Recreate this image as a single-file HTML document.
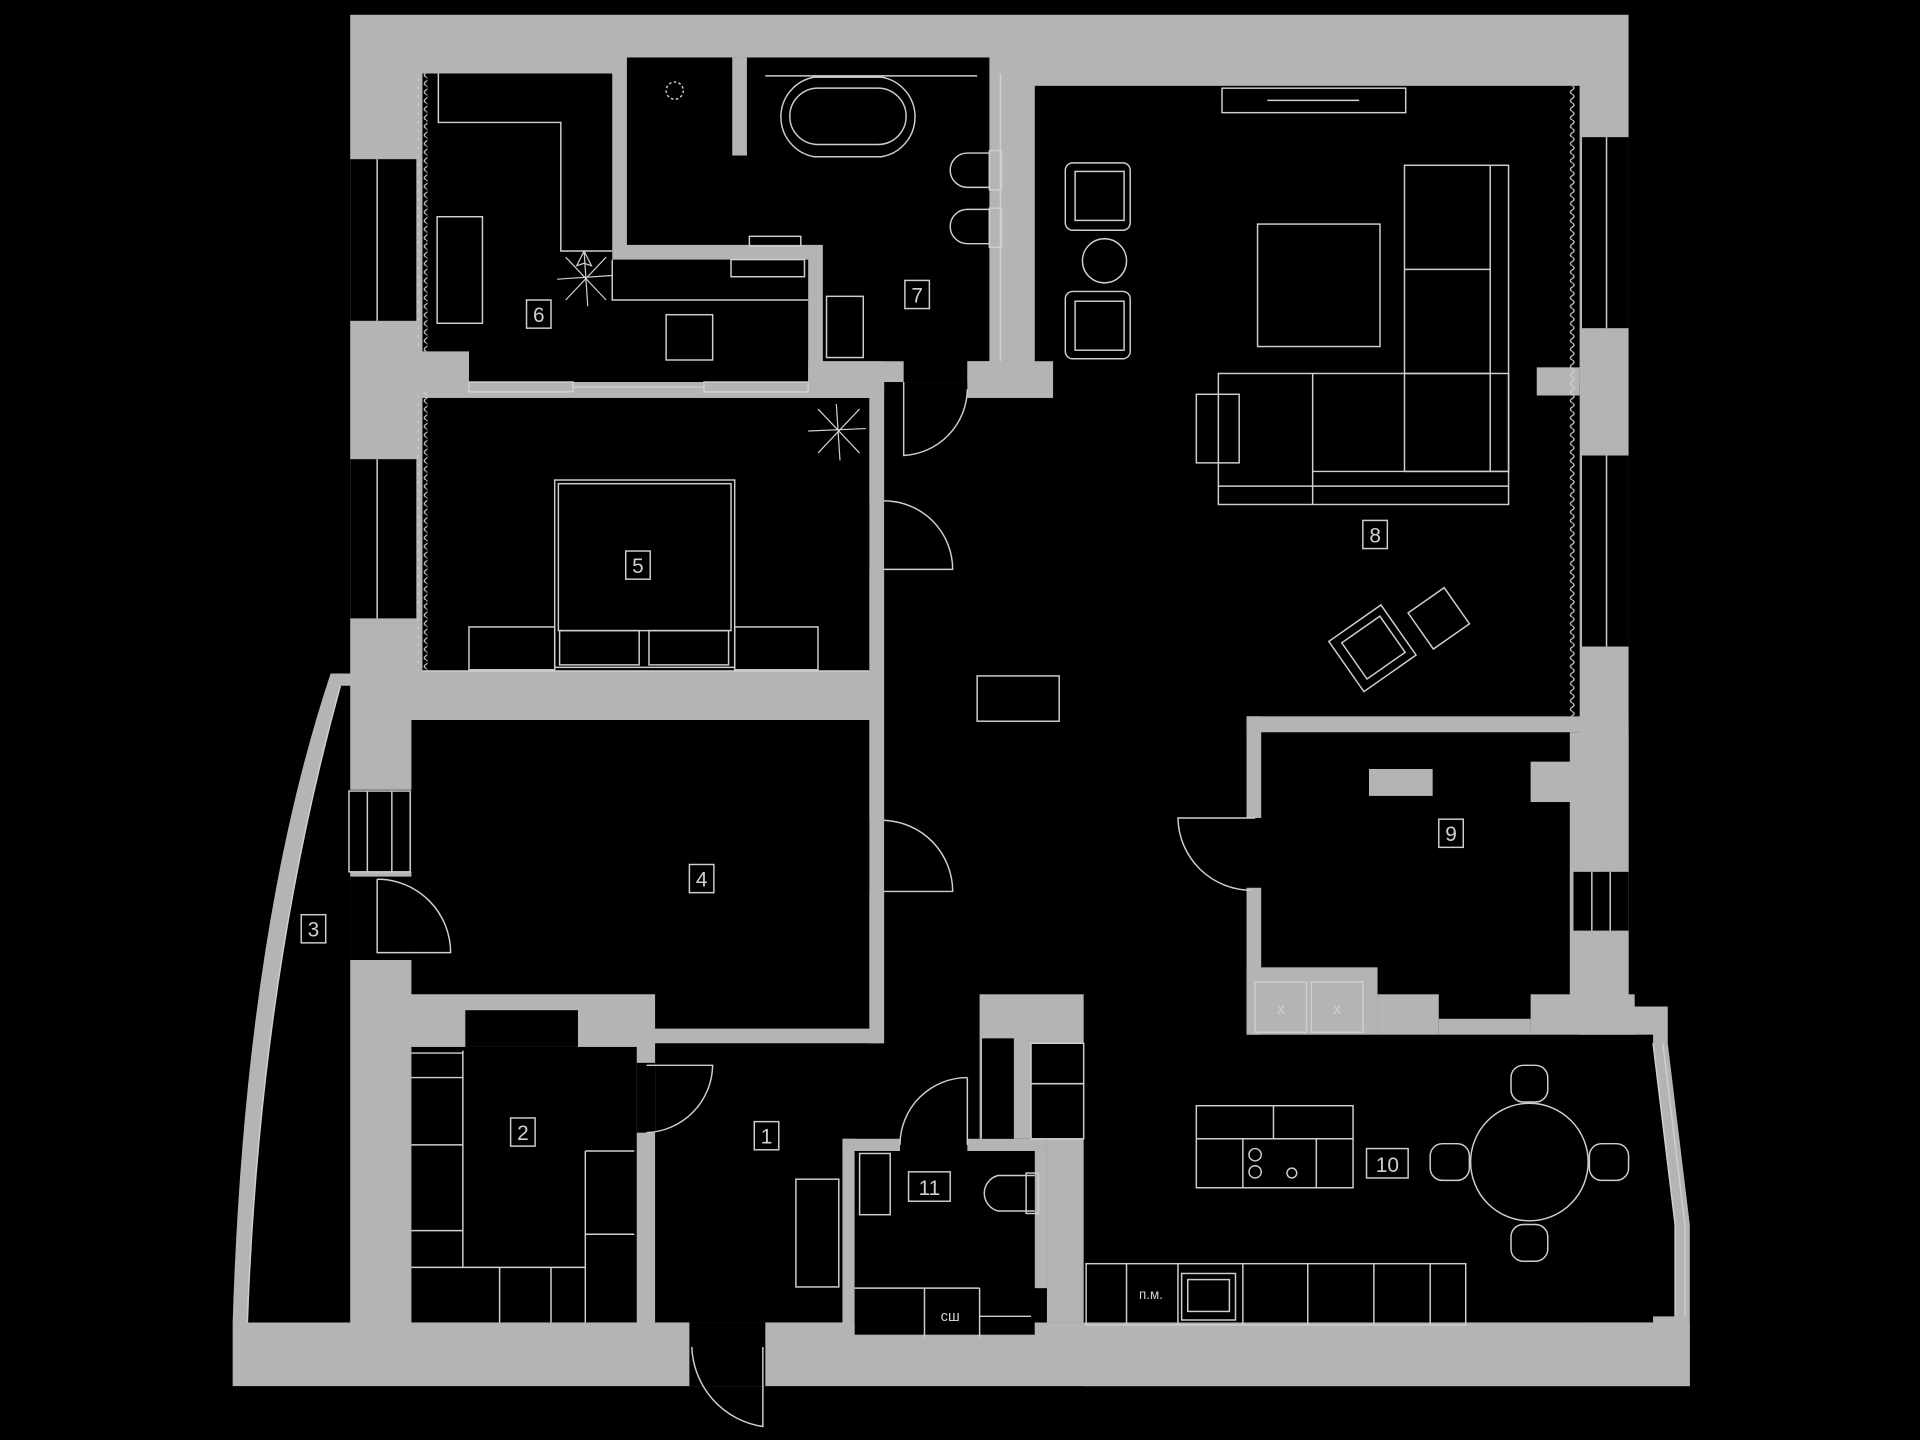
<!DOCTYPE html>
<html><head><meta charset="utf-8"><style>
html,body{margin:0;padding:0;background:#000;width:1920px;height:1440px;overflow:hidden}
svg{display:block}
text{font-family:"Liberation Sans",sans-serif;fill:#d0d0d0}
</style></head><body>
<svg width="1920" height="1440" viewBox="0 0 1568 1176" xmlns="http://www.w3.org/2000/svg">
<defs>
<pattern id="wv" width="8" height="7" patternUnits="userSpaceOnUse">
<path d="M4,0 Q7,1.75 4,3.5 Q1,5.25 4,7" fill="none" stroke="#cfcfcf" stroke-width="1"/>
</pattern>
</defs>
<rect width="1568" height="1176" fill="#000"/>
<!-- outer gray -->
<path d="M286,12 H1330 V822 H1362 V852 L1380,1000 V1132 H190 V1080 Q200,760 270,550 H286 Z" fill="#b4b4b4"/>
<g fill="#000">
<!-- R6 -->
<path d="M345,60 H500 V212 H660 V312 H383 V287 H345 Z"/>
<!-- R7 -->
<path d="M512,47 H808 V295 H790 V312 H738 V295 H672 V200 H512 Z"/>
<!-- R5 -->
<rect x="345" y="325" width="365" height="223"/>
<!-- R8 + corridor -->
<rect x="845" y="70" width="445" height="520"/>
<rect x="722" y="312" width="568" height="768"/>
<!-- R4 -->
<path d="M336,588 H710 V840 H535 V812 H336 Z"/>
<!-- R2 -->
<rect x="336" y="855" width="184" height="225"/>
<rect x="380" y="825" width="92" height="30"/>
<rect x="520" y="868" width="15" height="57"/>
<!-- R1 -->
<rect x="535" y="852" width="350" height="228"/>
<!-- R3 -->
<path d="M278,560 H286 V1080 H202 Q212,800 278,560 Z"/>
<!-- room 10 -->
<rect x="885" y="845" width="465" height="235"/>
<path d="M1330,852 H1350 L1368,1000 V1075 H1330 Z"/>
<!-- windows -->
<rect x="286" y="130" width="54" height="132"/>
<rect x="286" y="375" width="54" height="130"/>
<rect x="1292" y="112" width="38" height="156"/>
<rect x="1292" y="372" width="38" height="156"/>
<rect x="284" y="645" width="52" height="67"/>
<rect x="286" y="716" width="50" height="68"/>
<rect x="563" y="1080" width="62" height="52"/>
</g>
<!-- gray walls over big areas -->
<g fill="#b4b4b4">
<rect x="598" y="47" width="12" height="80"/>
<rect x="822" y="58" width="23" height="237"/>
<rect x="845" y="58" width="445" height="12"/>
<rect x="790" y="295" width="70" height="30"/>
<rect x="660" y="295" width="62" height="30"/>
<rect x="710" y="312" width="12" height="98"/>
<rect x="710" y="465" width="12" height="205"/>
<rect x="710" y="728" width="12" height="124"/>
<rect x="1255" y="300" width="35" height="23"/>
<rect x="1290" y="585" width="40" height="240"/>
<rect x="1018" y="585" width="272" height="13"/>
<rect x="1018" y="585" width="12" height="83"/>
<rect x="1018" y="725" width="12" height="120"/>
<rect x="1282" y="598" width="48" height="240"/>
<rect x="1250" y="622" width="40" height="33"/>
<rect x="1018" y="790" width="107" height="55"/>
<rect x="1125" y="812" width="50" height="33"/>
<rect x="1175" y="832" width="75" height="13"/>
<rect x="1250" y="812" width="85" height="33"/>
<rect x="1118" y="628" width="52" height="22"/>
<!-- closets & bath 11 -->
<rect x="800" y="812" width="85" height="118"/>
<rect x="688" y="930" width="10" height="165"/>
<rect x="688" y="930" width="47" height="10"/>
<rect x="790" y="930" width="65" height="10"/>
<rect x="855" y="930" width="30" height="150"/>
<rect x="845" y="940" width="10" height="112"/>
<rect x="688" y="1090" width="167" height="6"/>
<rect x="885" y="1080" width="495" height="52"/>
</g>
<g fill="#000">
<rect x="286" y="716" width="50" height="68"/>
<rect x="1285" y="712" width="45" height="48"/>
<rect x="802" y="848" width="26" height="82"/>
<rect x="842" y="852" width="43" height="78"/>
<rect x="698" y="940" width="147" height="150"/>
</g>
<!-- line work -->
<g fill="none" stroke="#cfcfcf" stroke-width="1.2">
<!-- window lines -->
<line x1="308" y1="130" x2="308" y2="262"/><line x1="308" y1="375" x2="308" y2="505"/>
<line x1="1312" y1="112" x2="1312" y2="268"/><line x1="1312" y1="372" x2="1312" y2="528"/>
<rect x="285" y="646" width="50" height="66"/><line x1="300" y1="646" x2="300" y2="712"/><line x1="320" y1="646" x2="320" y2="712"/>
<line x1="1300" y1="712" x2="1300" y2="760"/><line x1="1315" y1="712" x2="1315" y2="760"/>
<path d="M1350,852 L1368,1000 V1075 M1358,852 L1376,1000 V1075"/>
<path d="M278,560 Q212,800 202,1080"/>
<!-- doors -->
<path d="M722,465 H778 A56,56 0 0 0 722,409"/>
<path d="M722,728 H778 A58,58 0 0 0 722,670"/>
<path d="M738,312 V372 A55,55 0 0 0 790,318"/>
<path d="M1025,668 H962 A60,60 0 0 0 1022,727"/>
<path d="M528,870 H582 A56,56 0 0 1 528,925"/>
<path d="M308,718 V778 H368 A60,60 0 0 0 308,718"/>
<path d="M565,1100 A68,68 0 0 0 623,1165 V1100"/>
<path d="M790,880 V935 M790,880 A55,55 0 0 0 735,935"/>
<!-- R6 furniture -->
<path d="M358,60 V100 H458 V205 H500"/>
<rect x="357" y="177" width="37" height="87"/>
<rect x="544" y="257" width="38" height="37"/>
<path d="M500,212 V245 H660"/>
<rect x="597" y="212" width="60" height="14"/>
<rect x="612" y="193" width="42" height="8"/>
<rect x="383" y="312" width="85" height="8"/><rect x="575" y="312" width="85" height="8"/>
<line x1="468" y1="316" x2="575" y2="316"/>
<!-- R7 -->
<path d="M625,62 H798 M640,92 A20,20 0 0 0 640,92"/>
<path d="M665,63 H720 A33,33 0 0 1 720,128 H665 A33,33 0 0 1 665,63 Z"/>
<path d="M668,72 H717 A22,22 0 0 1 717,118 H668 A22,22 0 0 1 668,72 Z"/>
<circle cx="551" cy="74" r="7" stroke-dasharray="2,2"/>
<path d="M808,125 H790 A14,14 0 0 0 790,153 H808 Z M808,171 H790 A14,14 0 0 0 790,199 H808 Z"/>
<rect x="808" y="123" width="10" height="32"/><rect x="808" y="170" width="10" height="32"/>
<rect x="675" y="242" width="30" height="50"/>
<line x1="817" y1="60" x2="817" y2="295"/>
<!-- R5 -->
<rect x="453" y="392" width="147" height="153"/>
<rect x="456" y="395" width="141" height="120"/>
<rect x="383" y="512" width="70" height="35"/><rect x="600" y="512" width="68" height="35"/>
<rect x="457" y="515" width="65" height="28"/><rect x="530" y="515" width="65" height="28"/>
<line x1="345" y1="548" x2="710" y2="548"/>
<!-- R8 -->
<rect x="998" y="72" width="150" height="20"/><line x1="1035" y1="82" x2="1110" y2="82"/>
<rect x="1147" y="135" width="85" height="250"/>
<line x1="1147" y1="220" x2="1217" y2="220"/><line x1="1147" y1="305" x2="1217" y2="305"/><line x1="1217" y1="135" x2="1217" y2="385"/>
<rect x="995" y="305" width="237" height="107"/>
<line x1="1072" y1="305" x2="1072" y2="412"/><line x1="995" y1="397" x2="1232" y2="397"/><line x1="1072" y1="385" x2="1232" y2="385"/>
<rect x="977" y="322" width="35" height="56"/>
<rect x="1027" y="183" width="100" height="100"/>
<rect x="870" y="133" width="53" height="55" rx="6"/><rect x="878" y="140" width="40" height="40"/>
<rect x="870" y="238" width="53" height="55" rx="6"/><rect x="878" y="246" width="40" height="40"/>
<circle cx="902" cy="213" r="18"/>
<rect x="798" y="552" width="67" height="37"/>
<g transform="rotate(-35 1120 530)"><rect x="1095" y="505" width="52" height="50"/><rect x="1103" y="512" width="38" height="36"/></g>
<g transform="rotate(-35 1175 505)"><rect x="1157" y="487" width="36" height="36"/></g>
<!-- R2 -->
<path d="M336,860 H378 M336,880 H378 M336,935 H378 M336,1005 H378 M378,858 V1035 H478 V1008 M478,1035 V1080 M408,1035 V1080 M450,1035 V1080 M478,940 H518 M478,940 V1008 H518 M378,1035 H336"/>
<!-- R1 -->
<rect x="650" y="963" width="35" height="88"/>
<!-- bath 11 -->
<rect x="702" y="942" width="25" height="50"/>
<path d="M845,960 H815 A15,15 0 0 0 815,989 H845"/><rect x="838" y="958" width="10" height="33"/>
<path d="M698,1052 H800 M755,1052 V1092 M800,1052 V1092 M800,1075 H842"/>
<!-- kitchen -->
<rect x="887" y="1032" width="310" height="50"/>
<path d="M920,1032 V1082 M962,1032 V1082 M1015,1032 V1082 M1068,1032 V1082 M1122,1032 V1082 M1168,1032 V1082"/>
<rect x="965" y="1040" width="44" height="38"/><rect x="970" y="1045" width="34" height="26"/>
<rect x="977" y="903" width="128" height="67"/>
<path d="M977,930 H1105 M1040,903 V930 M1015,930 V970 M1075,930 V970"/>
<circle cx="1025" cy="943" r="5"/><circle cx="1025" cy="957" r="5"/><circle cx="1055" cy="958" r="4"/>
<!-- dining -->
<circle cx="1249" cy="949" r="48"/>
<rect x="1234" y="870" width="30" height="30" rx="10"/><rect x="1234" y="1000" width="30" height="30" rx="10"/>
<rect x="1168" y="934" width="32" height="30" rx="10"/><rect x="1298" y="934" width="32" height="30" rx="10"/>
<!-- closets -->
<rect x="1025" y="802" width="42" height="41"/><rect x="1071" y="802" width="42" height="41"/>
<rect x="842" y="852" width="43" height="33"/><rect x="842" y="885" width="43" height="45"/>
</g>
<!-- curtains -->
<rect x="341" y="60" width="8" height="227" fill="url(#wv)"/>
<rect x="341" y="320" width="8" height="228" fill="url(#wv)"/>
<rect x="1281" y="70" width="8" height="515" fill="url(#wv)"/>
<!-- plants -->
<g stroke="#cfcfcf" fill="none" stroke-width="1">
<path d="M477,205 L480,250 M455,228 L500,225 M462,210 L495,245 M495,210 L462,245 M477,205 l-6,12 6,-2 6,2z"/>
<path d="M683,330 L686,376 M660,352 L707,350 M668,334 L702,370 M702,334 L668,370"/>
</g>
<!-- labels -->
<g stroke="#cfcfcf" fill="none" stroke-width="1.2">
<rect x="616" y="916" width="20" height="23"/><rect x="417" y="913" width="20" height="23"/>
<rect x="246" y="747" width="20" height="23"/><rect x="563" y="706" width="20" height="23"/>
<rect x="511" y="450" width="20" height="23"/><rect x="430" y="245" width="20" height="23"/>
<rect x="739" y="229" width="20" height="23"/><rect x="1113" y="425" width="20" height="23"/>
<rect x="1175" y="669" width="20" height="23"/><rect x="1116" y="938" width="34" height="24"/>
<rect x="742" y="957" width="34" height="24"/>
</g>
<g font-size="17" text-anchor="middle">
<text x="626" y="934">1</text><text x="427" y="931">2</text><text x="256" y="765">3</text>
<text x="573" y="724">4</text><text x="521" y="468">5</text><text x="440" y="263">6</text>
<text x="749" y="247">7</text><text x="1123" y="443">8</text><text x="1185" y="687">9</text>
<text x="1133" y="957">10</text><text x="759" y="976">11</text>
<text x="1046" y="828" font-size="13">x</text><text x="1092" y="828" font-size="13">x</text>
<text x="940" y="1061" font-size="11">п.м.</text><text x="776" y="1079" font-size="12">сш</text>
</g>
</svg>
</body></html>
